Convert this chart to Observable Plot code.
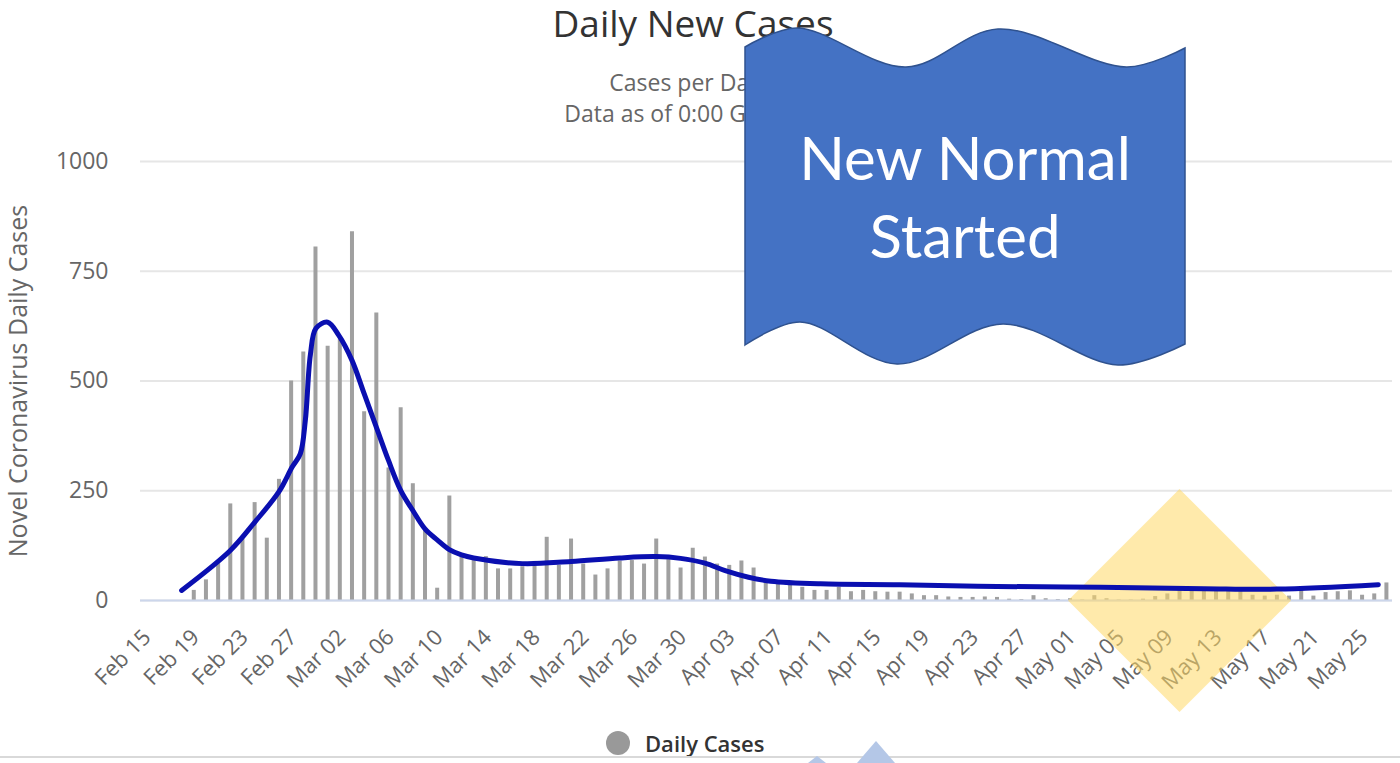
<!DOCTYPE html>
<html><head><meta charset="utf-8">
<script src="https://cdn.jsdelivr.net/npm/d3@7"></script>
<script src="https://cdn.jsdelivr.net/npm/@observablehq/plot@0.6"></script>
<style>
html,body{margin:0;padding:0;background:#fff;}
#wrap{position:relative;width:1400px;height:763px;overflow:hidden;font-family:"Open Sans",sans-serif;}
#chart{position:absolute;left:0;top:0;}
#title{position:absolute;left:0;width:1386px;top:2px;text-align:center;font-size:37px;line-height:42px;color:#333;}
#sub{position:absolute;left:0;width:1370px;top:67px;text-align:center;font-size:23px;line-height:31px;color:#666;}
#ylab{position:absolute;left:17px;top:381px;width:440px;margin-left:-220px;margin-top:-17px;text-align:center;font-size:25px;line-height:34px;color:#666;transform:rotate(-90deg);}
#legend{position:absolute;left:606px;top:729px;font-size:22px;font-weight:600;color:#333;display:flex;align-items:center;line-height:28px;}
#legend .sw{display:inline-block;width:24px;height:24px;border-radius:50%;background:#999;margin-right:15px;}
#overlay{position:absolute;left:0;top:0;}
</style></head><body>
<div id="wrap">
  <div id="title">Daily New Cases</div>
  <div id="sub">Cases per Day<br>Data as of 0:00 GMT+0</div>
  <div id="chart"></div>
  <div id="ylab">Novel Coronavirus Daily Cases</div>
  <div id="legend"><span class="sw"></span>Daily Cases</div>
  <svg id="overlay" width="1400" height="763"></svg>
</div>
<script>
// ---- data ----
const firstDate = "2020-02-19";
const dailyCases = [
  23, 47, 84, 220, 140, 223, 142, 276, 500, 566,
  805, 579, 594, 840, 430, 655, 302, 439, 266, 159,
  28, 238, 102, 91, 100, 72, 72, 77, 89, 144,
  80, 140, 83, 58, 72, 90, 91, 83, 140, 93,
  74, 119, 99, 83, 80, 90, 74, 40, 40, 35,
  30, 23, 23, 30, 20, 23, 20, 19, 19, 15,
  11, 11, 8, 7, 7, 8, 7, 3, 2, 11,
  4, 2, 4, 1, 11, 4, 1, 1, 3, 9,
  15, 25, 27, 26, 25, 27, 25, 12, 10, 12,
  10, 28, 10, 18, 20, 22, 12, 15, 40
];
const trendDates = ["2020-02-18","2020-02-22","2020-02-24","2020-02-26","2020-02-27T02:00Z","2020-02-27T18:00Z","2020-02-28T04:00Z","2020-02-28T14:00Z","2020-02-29T01:00Z","2020-03-01","2020-03-01T22:00Z","2020-03-03","2020-03-04","2020-03-05","2020-03-06","2020-03-07","2020-03-08","2020-03-09","2020-03-10","2020-03-11","2020-03-12","2020-03-13","2020-03-17","2020-03-21","2020-03-25","2020-03-28","2020-03-30","2020-04-01","2020-04-02T16:00Z","2020-04-04T14:00Z","2020-04-06T10:00Z","2020-04-10T12:00Z","2020-04-17","2020-04-25","2020-05-03T12:00Z","2020-05-12","2020-05-18","2020-05-26T08:00Z"];
const trendValues = [23,114,178,248,304,334,410,560,620,634,604,547,471,395,319,251,205,163,138,116,104,97,84,89,97,100,96,85,68,53,44,38,36,32,30,27,26,36];
const tickLabels = ["2020-02-15","2020-02-19","2020-02-23","2020-02-27","2020-03-02","2020-03-06","2020-03-10","2020-03-14","2020-03-18","2020-03-22","2020-03-26","2020-03-30","2020-04-03","2020-04-07","2020-04-11","2020-04-15","2020-04-19","2020-04-23","2020-04-27","2020-05-01","2020-05-05","2020-05-09","2020-05-13","2020-05-17","2020-05-21","2020-05-25"];
const yTicks = [0, 250, 500, 750, 1000];
const highlightDate = ["2020-05-10"];
const highlightValue = [0];

// ---- tables ----
const start = new Date(firstDate);
const cases = dailyCases.map((v, i) => ({date: d3.utcDay.offset(start, i), value: v}));
const trend = trendDates.map((d, i) => ({date: new Date(d), value: trendValues[i]}));
const ticks = tickLabels.map(d => new Date(d));
const highlight = highlightDate.map((d, i) => ({date: new Date(d), value: highlightValue[i]}));

const chart = Plot.plot({
  width: 1400, height: 763,
  marginTop: 161, marginBottom: 163, marginLeft: 140, marginRight: 8,
  style: {fontFamily: "'Open Sans', sans-serif", fontSize: "20px", color: "#666", background: "transparent", overflow: "visible"},
  x: {type: "utc", domain: [new Date("2020-02-14T14:56Z"), new Date("2020-05-27T12:00Z")]},
  y: {domain: [0, 1000]},
  marks: [
    Plot.gridY(yTicks, {stroke: "#e6e6e6", strokeOpacity: 1, strokeWidth: 2}),
    Plot.axisY(yTicks, {tickSize: 0, tickPadding: 32, fontSize: 23, tickFormat: d3.format("d"), label: null}),
    Plot.axisX(ticks, {tickSize: 0, tickPadding: 33, dx: 2, tickRotate: -45, tickFormat: d3.utcFormat("%b %d"), fontSize: 22, label: null}),
    Plot.ruleX(cases, {x: "date", y1: 0, y2: "value", stroke: "#a0a0a0", strokeWidth: 4}),
    Plot.ruleY([0], {stroke: "#ccd6eb", strokeWidth: 2}),
    Plot.dot(highlight, {x: "date", y: "value", symbol: "square", r: 89, rotate: 45, fill: "#FFD966", fillOpacity: 0.55, stroke: "none"}),
    Plot.line(trend, {x: "date", y: "value", curve: "catmull-rom", stroke: "#0a0fb0", strokeWidth: 5, strokeLinecap: "round"})
  ]
});
document.getElementById("chart").appendChild(chart);

// ---- decorative overlay (banner + cut-off shapes) ----
const svg = d3.select("#overlay");
svg.append("line").attr("x1", 0).attr("x2", 1400).attr("y1", 757).attr("y2", 757).attr("stroke", "#d9d9d9").attr("stroke-width", 2);
svg.append("polygon").attr("points", "857,763 876,741 895,763").attr("fill", "#B4C7E7");
svg.append("polygon").attr("points", "808,763 817,756 826,763").attr("fill", "#B4C7E7");

const topPts = [[745,47],[797,28],[906,67],[998,29],[1127,67],[1185,48]];
const botPts = [[745,345],[800,322],[897,364],[1003,324],[1118,365],[1185,344]];
const ln = d3.line().curve(d3.curveCatmullRom.alpha(0.5));
const pTop = ln(topPts);
const pBot = ln(botPts.slice().reverse()).replace(/^M/, "L");
svg.append("path").attr("d", pTop + pBot + "Z").attr("fill", "#4472C4").attr("stroke", "#2F528F").attr("stroke-width", 1.5);
svg.append("text").attr("x", 965).attr("y", 180).attr("text-anchor", "middle").attr("fill", "#fff")
  .attr("font-family", "Lato, sans-serif").attr("font-size", 60).text("New Normal");
svg.append("text").attr("x", 965).attr("y", 258).attr("text-anchor", "middle").attr("fill", "#fff")
  .attr("font-family", "Lato, sans-serif").attr("font-size", 60).text("Started");
</script>
</body></html>
